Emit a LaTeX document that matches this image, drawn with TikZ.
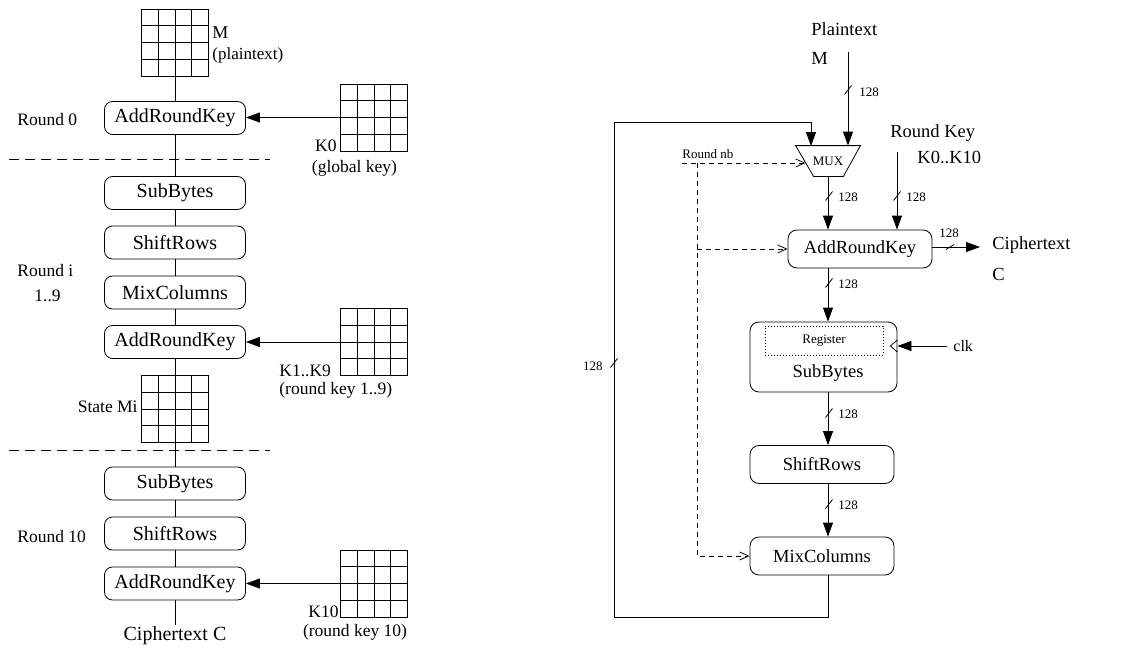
\documentclass[tikz,border=0pt]{standalone}
\usepackage{fontspec}
\setmainfont{Liberation Serif}
\usetikzlibrary{arrows.meta,calc}
\newcommand\fsz[1]{\fontsize{#1}{#1}\selectfont}
\newcommand\busmark[1]{\draw ($(#1)+(-3.5,4.5)$) -- ++(7,-9);}
\begin{document}
\begin{tikzpicture}[x=1pt,y=-1pt,line width=0.8pt,
 op/.style={draw,rounded corners=8pt,minimum width=141pt,minimum height=33pt,inner sep=0pt,font=\fsz{20}},
 rop/.style={draw,rounded corners=9pt,minimum width=144pt,minimum height=38pt,inner sep=0pt,font=\fsz{18.5}},
 lbl/.style={inner sep=0pt,font=\fsz{17.5}},
 rlbl/.style={inner sep=0pt,font=\fsz{18.5}},
 small/.style={inner sep=0pt,font=\fsz{13}},
 arr/.style={-{Triangle[length=14pt,width=10pt]}},
 ctl/.style={dash pattern=on 5pt off 4pt,-{Straight Barb[length=9pt,width=8pt]}},
 sepline/.style={dash pattern=on 10pt off 6pt},
 state/.style={draw,minimum width=66.5pt,minimum height=67pt,inner sep=0pt,
  path picture={
   \foreach \f in {0.25,0.5,0.75}{
    \draw ($(path picture bounding box.north west)!\f!(path picture bounding box.north east)$) --
          ($(path picture bounding box.south west)!\f!(path picture bounding box.south east)$);
    \draw ($(path picture bounding box.north west)!\f!(path picture bounding box.south west)$) --
          ($(path picture bounding box.north east)!\f!(path picture bounding box.south east)$);
   }}}
]
\useasboundingbox (0,0) rectangle (1136,648);

% ---------------- left: AES rounds ----------------
\node[state] (gM) at (175,42.5) {};
\node[lbl,anchor=west,font=\fsz{18}] (tM) at (212,33) {M};
\node[lbl,anchor=west,font=\fsz{17}] (tpl) at (212,55) {(plaintext)};

\node[op] (ark0) at (175,118) {AddRoundKey};
\node[lbl,anchor=west] (r0) at (17,120) {Round 0};
\node[state] (gK0) at (374,117.5) {};
\node[lbl,anchor=east] (tK0) at (337,146) {K0};
\node[lbl] (tgk) at (354.5,168) {(global key)};

\coordinate (s1a) at (9,159);
\coordinate (s1b) at (270,159);
\draw[sepline] (s1a) -- (s1b);

\node[op] (sb1) at (175,193) {SubBytes};
\node[op] (sr1) at (175,242.5) {ShiftRows};
\node[op] (mc1) at (175,292.5) {MixColumns};
\node[op] (ark1) at (175,342) {AddRoundKey};
\node[lbl,anchor=west] (ri) at (17,271) {Round i};
\node[lbl] (r19) at (47.5,296) {1..9};
\node[state] (gK1) at (374,342) {};
\node[lbl,anchor=west] (tK1) at (279,371) {K1..K9};
\node[lbl,anchor=west] (trk) at (279,390) {(round key 1..9)};
\node[state] (gMi) at (175,409) {};
\node[lbl,anchor=east] (tMi) at (138,407) {State Mi};

\coordinate (s2a) at (9,450);
\coordinate (s2b) at (270,450);
\draw[sepline] (s2a) -- (s2b);

\node[op] (sb10) at (175,483.5) {SubBytes};
\node[op] (sr10) at (175,533.5) {ShiftRows};
\node[op] (ark10) at (175,583.5) {AddRoundKey};
\node[lbl,anchor=west] (r10) at (17,537) {Round 10};
\node[state] (gK10) at (374,583.5) {};
\node[lbl,anchor=east] (tK10) at (339,612) {K10};
\node[lbl] (trk10) at (355,632) {(round key 10)};
\coordinate (cend) at (175,625);
\node[inner sep=0pt,font=\fsz{20}] (tct) at (175,636) {Ciphertext C};

\draw (gM) -- (ark0);
\draw (ark0) -- (sb1);
\draw (sb1) -- (sr1);
\draw (sr1) -- (mc1);
\draw (mc1) -- (ark1);
\draw (ark1) -- (gMi);
\draw (gMi) -- (sb10);
\draw (sb10) -- (sr10);
\draw (sr10) -- (ark10);
\draw (ark10) -- (cend);
\draw[arr] (gK0.west) -- (gK0.west -| ark0.east);
\draw[arr] (gK1.west) -- (gK1.west -| ark1.east);
\draw[arr] (gK10.west) -- (gK10.west -| ark10.east);

% ---------------- right: hardware ----------------
\node[rlbl,anchor=west] (tPl) at (811,29) {Plaintext};
\node[rlbl,anchor=west] (tPM) at (811,58) {M};
\node[rlbl,anchor=west] (tRK) at (890,133) {Round Key};
\node[rlbl,anchor=west] (tRK2) at (917,157) {K0..K10};
\node[small,anchor=west] (tRnb) at (682,154) {Round nb};

\node[small,minimum width=64pt,minimum height=30pt] (mux) at (828,161) {MUX};
\draw (mux.north west) -- (mux.north east) -- ($(mux.south east)+(-17,0)$) -- ($(mux.south west)+(18,0)$) -- cycle;

\node[rop] (ark) at (860,249) {AddRoundKey};
\node[draw,rounded corners=9pt,minimum width=147pt,minimum height=70pt,inner sep=0pt] (sb) at (823.5,357) {};
\node[draw,dash pattern=on 0.8pt off 2.2pt,minimum width=118pt,minimum height=29pt,small] (reg) at (824,340.5) {Register};
\node[rlbl] (sbt) at (828,373) {SubBytes};
\node[rop] (sr) at (822,464.5) {ShiftRows};
\node[rop] (mc) at (822,556) {MixColumns};

\node[rlbl,anchor=west] (tCi) at (992,245) {Ciphertext};
\node[rlbl,anchor=west] (tC) at (992,274) {C};
\node[inner sep=0pt,font=\fsz{16}, anchor=west] (tclk) at (953,346) {clk};

\coordinate (pin) at (848,52);
\coordinate (rkin) at (897,152);
\coordinate (rnb) at (682,163);
\coordinate (dv) at (697,163);
\coordinate (clk) at (947,346);
\coordinate (cout) at (980,247);
\coordinate (fbl) at (614,617);
\coordinate (fbu) at (614,122);
\coordinate (fbx) at (811,146);

% data path
\draw[arr] (pin) -- (pin |- mux.north);
\draw[arr] (mux.south) -- (mux.south |- ark.north);
\draw[arr] (rkin) -- (rkin |- ark.north);
\draw[arr] (mux.south |- ark.south) -- (mux.south |- sb.north);
\draw[arr] (mux.south |- sb.south) -- (mux.south |- sr.north);
\draw[arr] (mux.south |- sr.south) -- (mux.south |- mc.north);
\draw[arr] (ark.east |- cout) -- (cout);
\draw[arr] (mux.south |- mc.south) -- (mux.south |- fbl) -- (fbl) -- (fbu) -- (fbu -| fbx) -- (fbx);
\draw[arr] (clk) -- (clk -| sb.east);
\draw ($(clk -| sb.east)+(0,-6)$) -- ++(-7,6) -- ++(7,6);

% control
\draw[ctl] (rnb) -- ($(mux.west)+(10,2)$);
\draw[ctl] (dv) |- (mc.west);
\draw[ctl] (dv |- ark.west) -- (ark.west);

% bus marks
\coordinate (b1) at (848,90);
\coordinate (b2) at (829,196);
\coordinate (b3) at (897,196);
\coordinate (b4) at (829,283);
\coordinate (b5) at (829,413);
\coordinate (b6) at (829,504);
\coordinate (b7) at (614,363);
\busmark{b1}\busmark{b2}\busmark{b3}\busmark{b4}\busmark{b5}\busmark{b6}\busmark{b7}
\coordinate (b8) at (950,247);
\draw ($(b8)+(-4,2.5)$) -- ++(8,-5);
\node[small,anchor=west] (n1) at (859,92) {128};
\node[small,anchor=west] (n2) at (838,197) {128};
\node[small,anchor=west] (n3) at (906,197) {128};
\node[small,anchor=west] (n4) at (838,284) {128};
\node[small,anchor=west] (n5) at (838,414) {128};
\node[small,anchor=west] (n6) at (838,505) {128};
\node[small,anchor=east] (n7) at (603,366) {128};
\node[small] (n8) at (949,233) {128};
\end{tikzpicture}
\end{document}
